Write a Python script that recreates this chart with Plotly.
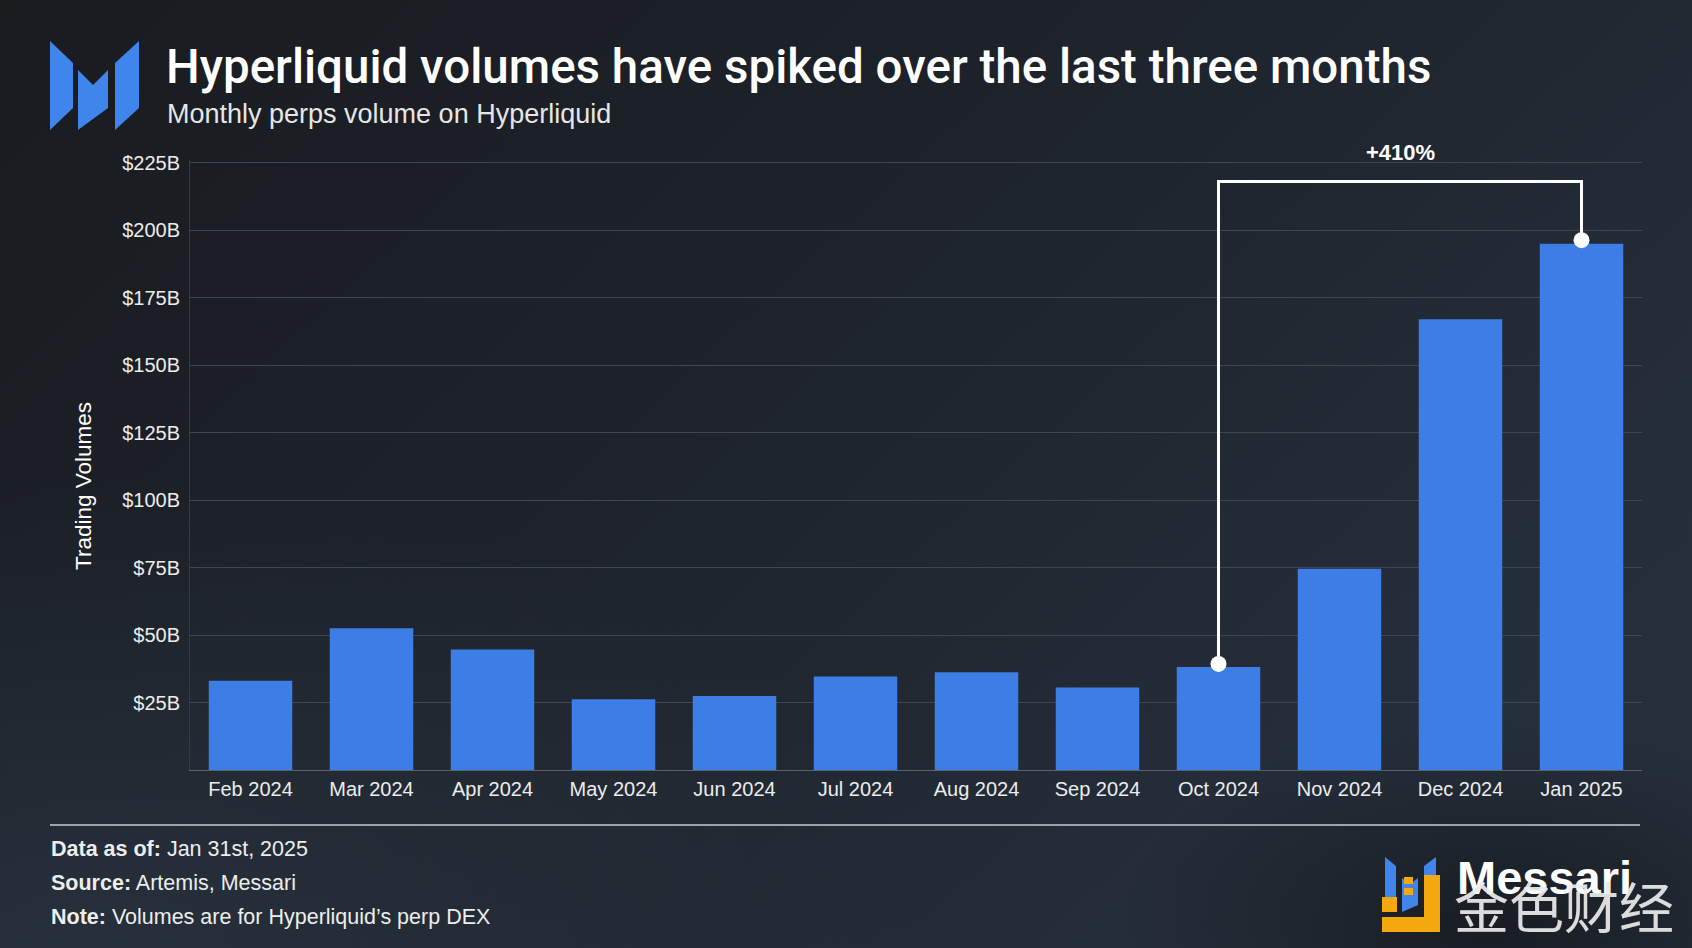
import base64
import plotly.graph_objects as go

# ---------------- data ----------------
months = ["Feb 2024", "Mar 2024", "Apr 2024", "May 2024", "Jun 2024", "Jul 2024",
          "Aug 2024", "Sep 2024", "Oct 2024", "Nov 2024", "Dec 2024", "Jan 2025"]
volumes_b = [33.1, 52.5, 44.6, 26.2, 27.4, 34.6, 36.2, 30.6, 38.2, 74.6, 167.0, 195.0]
tick_vals = [25, 50, 75, 100, 125, 150, 175, 200, 225]
tick_text = ["$25B", "$50B", "$75B", "$100B", "$125B", "$150B", "$175B", "$200B", "$225B"]
bracket_from = "Oct 2024"
bracket_to = "Jan 2025"
bracket_label = "+410%"

# ---------------- geometry helpers ----------------
W, H = 1692, 948
L, R, T, B = 190, 50, 160, 178
PW, PH = W - L - R, H - T - B


def px(x):
    return (x - L) / PW


def py(y):
    return (H - B - y) / PH


def poly(points):
    s = "M " + " L ".join(f"{px(x):.5f},{py(y):.5f}" for x, y in points) + " Z"
    return s


BAR = "#3d7de6"
TXT = "#ececec"

fig = go.Figure()

fig.add_trace(go.Bar(
    x=months, y=volumes_b, marker=dict(color=BAR, line=dict(width=0)),
    width=0.69, hoverinfo="skip", showlegend=False,
))

# bracket annotation
i0, i1 = months.index(bracket_from), months.index(bracket_to)
bracket_y = 218
y0 = volumes_b[i0] + 1.1
y1 = volumes_b[i1] + 1.3
fig.add_trace(go.Scatter(
    x=[bracket_from, bracket_from, bracket_to, bracket_to],
    y=[y0, bracket_y, bracket_y, y1],
    mode="lines", line=dict(color="white", width=3), hoverinfo="skip", showlegend=False,
    cliponaxis=False,
))
fig.add_trace(go.Scatter(
    x=[bracket_from, bracket_to], y=[y0, y1], mode="markers",
    marker=dict(color="white", size=16, line=dict(width=0)),
    hoverinfo="skip", showlegend=False, cliponaxis=False,
))

annotations = [
    dict(x=px(1400), y=py(153), xref="paper", yref="paper", xanchor="center", yanchor="middle",
         text=f"<b>{bracket_label}</b>", showarrow=False,
         font=dict(family="Liberation Sans", size=22, color="white")),
    # title
    dict(x=px(164), y=py(67), xref="paper", yref="paper", xanchor="left", yanchor="middle",
         text="Hyperliquid volumes have spiked over the last three months", showarrow=False,
         font=dict(family="Roboto", size=47.5, color="white", weight=500)),
    dict(x=px(165), y=py(114), xref="paper", yref="paper", xanchor="left", yanchor="middle",
         text="Monthly perps volume on Hyperliquid", showarrow=False,
         font=dict(family="Liberation Sans", size=27, color="#e6e6e6")),
    # y axis title
    dict(x=px(83), y=py(486), xref="paper", yref="paper", xanchor="center", yanchor="middle",
         text="Trading Volumes", textangle=-90, showarrow=False,
         font=dict(family="Liberation Sans", size=22.5, color="white")),
    # footer
    dict(x=px(49), y=py(849), xref="paper", yref="paper", xanchor="left", yanchor="middle",
         text="<b>Data as of:</b> Jan 31st, 2025", showarrow=False,
         font=dict(family="Liberation Sans", size=21.5, color="#ededed")),
    dict(x=px(49), y=py(883), xref="paper", yref="paper", xanchor="left", yanchor="middle",
         text="<b>Source:</b> Artemis, Messari", showarrow=False,
         font=dict(family="Liberation Sans", size=21.5, color="#ededed")),
    dict(x=px(49), y=py(917), xref="paper", yref="paper", xanchor="left", yanchor="middle",
         text="<b>Note:</b> Volumes are for Hyperliquid’s perp DEX", showarrow=False,
         font=dict(family="Liberation Sans", size=21.5, color="#ededed")),
    # watermark
    dict(x=px(1455), y=py(877), xref="paper", yref="paper", xanchor="left", yanchor="middle",
         text="<b>Messari</b>", showarrow=False,
         font=dict(family="Liberation Sans", size=47, color="white")),
    dict(x=px(1452), y=py(904), xref="paper", yref="paper", xanchor="left", yanchor="middle",
         text="金色财经", showarrow=False,
         font=dict(family="Noto Sans CJK SC", size=55, color="rgba(235,235,235,0.93)")),
]

shapes = []
# footer separator
shapes.append(dict(type="line", xref="paper", yref="paper", x0=px(50), x1=px(1640),
                   y0=py(825), y1=py(825), line=dict(color="#9da3ab", width=2), layer="above"))
# top-left Messari logo
LOGO = "#3f85ec"
for pts in [
    [(50, 41), (73, 63), (73, 108), (50, 130)],
    [(78, 70), (93, 85), (108, 70), (108, 108), (78, 130)],
    [(115, 63), (139, 41), (139, 108), (115, 130)],
]:
    shapes.append(dict(type="path", xref="paper", yref="paper", path=poly(pts),
                       fillcolor=LOGO, line=dict(width=0), layer="above"))
# watermark logo
WB, WY = "#3f85ec", "#f5a90f"
for pts, col in [
    ([(1385, 857), (1396, 866), (1396, 905), (1385, 912)], WB),
    ([(1402, 878), (1410, 884), (1418, 878), (1418, 905), (1402, 912)], WB),
    ([(1424, 866), (1436, 857), (1436, 905), (1424, 912)], WB),
    ([(1424, 875), (1440, 875), (1440, 932), (1424, 932)], WY),
    ([(1382, 917), (1440, 917), (1440, 932), (1382, 932)], WY),
    ([(1382, 897), (1397, 897), (1397, 912), (1382, 912)], WY),
    ([(1404, 877), (1413, 877), (1413, 884), (1404, 884)], WY),
    ([(1404, 888), (1413, 888), (1413, 895), (1404, 895)], WY),
]:
    shapes.append(dict(type="path", xref="paper", yref="paper", path=poly(pts),
                       fillcolor=col, line=dict(width=0), layer="above"))

# background gradient as svg image
svg = f"""<svg xmlns='http://www.w3.org/2000/svg' width='{W}' height='{H}'>
<defs>
<linearGradient id='g' x1='0' y1='0' x2='1' y2='0.6'>
<stop offset='0' stop-color='#191b1f'/>
<stop offset='0.45' stop-color='#1d222a'/>
<stop offset='1' stop-color='#252f3c'/>
</linearGradient>
<radialGradient id='r' cx='0.05' cy='1' r='0.5'>
<stop offset='0' stop-color='#27313d' stop-opacity='0.9'/>
<stop offset='1' stop-color='#27313d' stop-opacity='0'/>
</radialGradient>
<radialGradient id='d' cx='0.88' cy='0.98' r='0.22'>
<stop offset='0' stop-color='#181b20' stop-opacity='0.9'/>
<stop offset='1' stop-color='#181b20' stop-opacity='0'/>
</radialGradient>
</defs>
<rect width='{W}' height='{H}' fill='url(#g)'/>
<rect width='{W}' height='{H}' fill='url(#r)'/>
<rect width='{W}' height='{H}' fill='url(#d)'/>
</svg>"""
src = "data:image/svg+xml;base64," + base64.b64encode(svg.encode()).decode()

fig.update_layout(
    width=W, height=H,
    margin=dict(l=L, r=R, t=T, b=B, pad=0),
    paper_bgcolor="#1d222a", plot_bgcolor="rgba(0,0,0,0)",
    images=[dict(source=src, xref="paper", yref="paper", x=px(0), y=py(0),
                 sizex=W / PW, sizey=H / PH, xanchor="left", yanchor="top",
                 sizing="stretch", layer="below")],
    shapes=shapes, annotations=annotations,
    bargap=0.31, showlegend=False,
    font=dict(family="Liberation Sans", color=TXT),
)
fig.update_xaxes(
    type="category", categoryorder="array", categoryarray=months,
    range=[-0.5, len(months) - 0.5], showgrid=False, zeroline=False,
    showline=True, linecolor="#5b6169", linewidth=1,
    ticks="", ticklabelstandoff=1,
    tickfont=dict(family="Liberation Sans", size=20, color=TXT),
)
fig.update_yaxes(
    range=[0, 226], tickvals=tick_vals, ticktext=tick_text,
    showgrid=True, gridcolor="#3f464f", gridwidth=1, zeroline=False,
    showline=True, linecolor="#343a42", linewidth=1,
    ticks="", ticklabelstandoff=5,
    tickfont=dict(family="Liberation Sans", size=20, color=TXT),
)

fig.write_html(
    "out.html",
    config=dict(displayModeBar=False),
    post_script="document.body.style.margin='0';document.body.style.overflow='hidden';",
)
